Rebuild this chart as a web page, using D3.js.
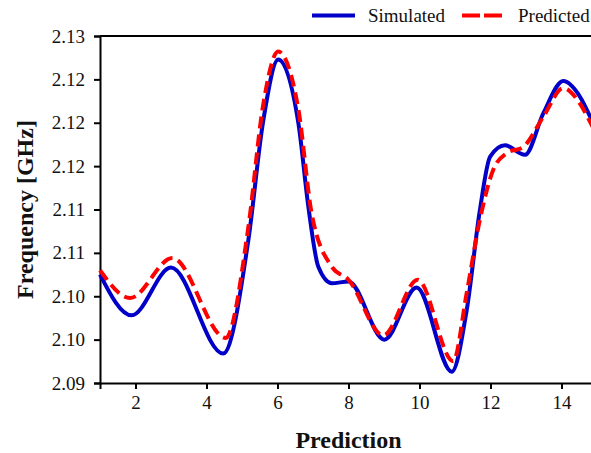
<!DOCTYPE html>
<html>
<head>
<meta charset="utf-8">
<script src="https://cdn.jsdelivr.net/npm/d3@7"></script>
<style>
  html, body { margin: 0; padding: 0; background: #fff; }
  svg { display: block; }
  svg text { font-family: "Liberation Serif", "Times New Roman", Times, "DejaVu Serif", serif; }
</style>
</head>
<body>
<svg id="chart" width="591" height="453"></svg>
<script>
// Prediction index positions along the curve
const simX = [1.00, 1.89, 3.00, 4.47, 5.18, 5.59, 6.02, 6.59, 6.87, 7.15, 7.53, 8.00,
              9.01, 9.92, 10.91, 11.33, 11.70, 11.99, 12.41, 12.97, 13.49, 14.05, 14.52, 14.83, 15.00];
// Simulated resonant frequency (GHz)
const simY = [2.1025, 2.0978, 2.1033, 2.0934, 2.1065, 2.1200, 2.1273, 2.1199, 2.1103, 2.1034, 2.1015, 2.1017,
              2.0950, 2.1010, 2.0913, 2.0984, 2.1099, 2.1161, 2.1174, 2.1163, 2.1211, 2.1248, 2.1230, 2.1205, 2.1190];

const predX = [1.00, 1.85, 3.04, 4.54, 5.18, 5.59, 6.02, 6.59, 6.96, 7.53, 8.00,
               8.98, 9.95, 10.95, 11.33, 11.70, 12.08, 12.46, 12.92, 13.49, 14.05, 14.52, 14.83, 15.00];
// Predicted resonant frequency (GHz)
const predY = [2.1030, 2.0998, 2.1044, 2.0952, 2.1080, 2.1219, 2.1282, 2.1215, 2.1096, 2.1034, 2.1019,
               2.0955, 2.1019, 2.0925, 2.1004, 2.1088, 2.1146, 2.1165, 2.1172, 2.1207, 2.1240, 2.1222, 2.1199, 2.1186];

const xTicks = [2, 4, 6, 8, 10, 12, 14];
const yTicks = [2.090, 2.095, 2.100, 2.105, 2.110, 2.115, 2.120, 2.125, 2.130];
const yTickLabels = ["2.09", "2.10", "2.10", "2.11", "2.11", "2.12", "2.12", "2.12", "2.13"];

const seriesNames = ["Simulated", "Predicted"];
const seriesColors = ["#0000c8", "#ff0000"];

const serif = "'Liberation Serif', 'Times New Roman', Times, 'DejaVu Serif', serif";

const svg = d3.select("#chart");
const plotLeft = 100, plotRight = 597, plotTop = 36, plotBottom = 383;

const x = d3.scaleLinear().domain([1, 15]).range([plotLeft, plotRight]);
const y = d3.scaleLinear().domain([2.09, 2.13]).range([plotBottom, plotTop]);

// plot frame (top and right edges)
svg.append("path")
  .attr("d", `M${plotLeft},${plotTop}H${plotRight}V${plotBottom}`)
  .attr("fill", "none").attr("stroke", "#000").attr("stroke-width", 2);

const fontSize = 19;

const xAxis = svg.append("g")
  .attr("transform", `translate(0,${plotBottom})`)
  .call(d3.axisBottom(x).tickValues(xTicks).tickSize(6).tickPadding(7).tickFormat(d3.format("d")));
const yAxis = svg.append("g")
  .attr("transform", `translate(${plotLeft},0)`)
  .call(d3.axisLeft(y).tickValues(yTicks).tickSize(6).tickPadding(9)
    .tickFormat((d, i) => yTickLabels[i]));

[xAxis, yAxis].forEach(g => {
  g.attr("font-family", serif).attr("font-size", fontSize);
  g.select(".domain").attr("stroke", "#000").attr("stroke-width", 2);
  g.selectAll(".tick line").attr("stroke", "#000").attr("stroke-width", 2);
  g.selectAll(".tick text")
    .attr("fill", "#111")
    .attr("font-family", serif)
    .attr("font-size", fontSize);
});

const line = d3.line()
  .x(d => x(d[0]))
  .y(d => y(d[1]))
  .curve(d3.curveMonotoneX);

const simData = simX.map((v, i) => [v, simY[i]]);
const predData = predX.map((v, i) => [v, predY[i]]);

svg.append("path")
  .datum(simData)
  .attr("d", line)
  .attr("fill", "none")
  .attr("stroke", seriesColors[0])
  .attr("stroke-width", 4)
  .attr("stroke-linejoin", "round");

svg.append("path")
  .datum(predData)
  .attr("d", line)
  .attr("fill", "none")
  .attr("stroke", seriesColors[1])
  .attr("stroke-width", 4)
  .attr("stroke-dasharray", "12,6");

// axis titles
svg.append("text")
  .attr("x", (plotLeft + plotRight) / 2)
  .attr("y", 448)
  .attr("text-anchor", "middle")
  .attr("font-family", serif)
  .attr("font-size", 24)
  .attr("font-weight", "bold")
  .attr("fill", "#111")
  .text("Prediction");

svg.append("text")
  .attr("transform", `translate(33,${(plotTop + plotBottom) / 2}) rotate(-90)`)
  .attr("text-anchor", "middle")
  .attr("font-family", serif)
  .attr("font-size", 24)
  .attr("font-weight", "bold")
  .attr("fill", "#111")
  .text("Frequency [GHz]");

// legend
const legend = svg.append("g");
const legendItems = [
  { x1: 312, x2: 355, tx: 368, dash: null },
  { x1: 462, x2: 502, tx: 518, dash: "18,4" }
];
legendItems.forEach((it, i) => {
  legend.append("line")
    .attr("x1", it.x1).attr("x2", it.x2)
    .attr("y1", 15.5).attr("y2", 15.5)
    .attr("stroke", seriesColors[i])
    .attr("stroke-width", 4)
    .attr("stroke-dasharray", it.dash);
  legend.append("text")
    .attr("x", it.tx).attr("y", 22)
    .attr("font-family", serif)
    .attr("font-size", fontSize)
    .attr("fill", "#111")
    .text(seriesNames[i]);
});
</script>
</body>
</html>
